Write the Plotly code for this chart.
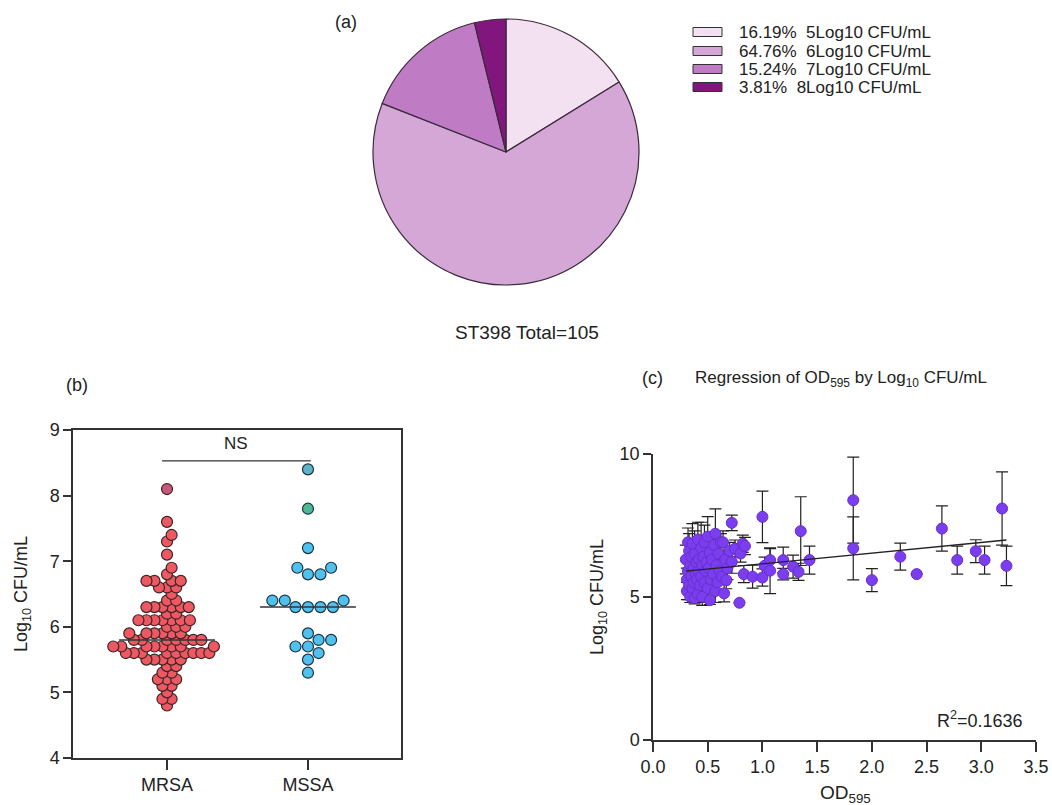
import math
import numpy as np
import plotly.graph_objects as go

W, H = 1052, 805

# ---------------- data ----------------
# (a) pie
pie_labels = ["5Log10 CFU/mL", "6Log10 CFU/mL", "7Log10 CFU/mL", "8Log10 CFU/mL"]
pie_counts = [17, 68, 16, 4]
pie_total_label = "ST398 Total=105"

# (b) dot plot (Log10 CFU/mL per isolate)
mrsa_levels = [4.8, 4.9, 5.0, 5.1, 5.2, 5.3, 5.4, 5.5, 5.6, 5.7, 5.8, 5.9, 6.0, 6.1, 6.2, 6.3,
               6.4, 6.5, 6.6, 6.7, 6.8, 6.9, 7.1, 7.3, 7.4, 7.6, 8.1]
mrsa_counts = [1, 2, 1, 2, 3, 2, 2, 5, 9, 8, 7, 6, 3, 7, 2, 6,
               2, 1, 3, 4, 1, 1, 1, 1, 1, 1, 1]
mssa_values = [8.4, 7.8, 7.2, 6.9, 6.8, 6.8, 6.9, 6.4, 6.3, 6.3, 6.3, 6.4, 6.3, 6.4,
               5.8, 5.9, 5.7, 5.7, 5.6, 5.8, 5.5, 5.3]
group_names = ["MRSA", "MSSA"]
ns_level = 8.53

# (c) regression: OD595 vs Log10 CFU/mL (mean, SD)
od = [0.30, 0.31, 0.31, 0.32, 0.32, 0.33, 0.33, 0.34, 0.34, 0.35, 0.35, 0.36, 0.36, 0.37, 0.37,
      0.38, 0.38, 0.39, 0.40, 0.40, 0.41, 0.41, 0.42, 0.42, 0.43, 0.44, 0.44, 0.45, 0.45, 0.46,
      0.47, 0.47, 0.48, 0.49, 0.50, 0.50, 0.51, 0.52, 0.52, 0.53, 0.54, 0.55, 0.56, 0.57, 0.57,
      0.58, 0.59, 0.60, 0.61, 0.62, 0.63, 0.64, 0.65, 0.66, 0.67, 0.68, 0.70,
      0.72, 0.72, 0.75, 0.79, 0.80, 0.82, 0.83, 0.84, 0.91, 1.00, 1.00, 1.02, 1.07, 1.07,
      1.19, 1.19, 1.28, 1.33, 1.35, 1.43, 1.83, 1.83, 2.00, 2.26, 2.41, 2.64, 2.78, 2.95,
      3.03, 3.19, 3.23]
cfu = [6.3, 5.6, 5.2, 6.9, 5.9, 6.6, 5.4, 6.1, 5.0, 6.4, 5.7, 6.85, 5.3, 6.0, 5.5,
       6.5, 4.95, 5.8, 6.2, 5.6, 7.0, 5.1, 6.3, 5.9, 5.4, 6.7, 5.7, 6.1, 5.0, 6.4,
       5.5, 6.9, 5.9, 6.2, 5.3, 7.1, 6.0, 4.88, 6.55, 5.6, 6.3, 5.8, 6.8, 7.2, 5.2,
       6.1, 5.5, 6.5, 5.9, 6.9, 5.7, 6.9, 5.12, 6.3, 5.58, 6.0, 6.6,
       7.58, 6.22, 6.68, 4.79, 6.51, 6.85, 5.79, 6.77, 5.70, 7.79, 5.67, 6.08, 6.28, 5.91,
       6.28, 5.79, 6.05, 5.87, 7.29, 6.28, 8.37, 6.69, 5.58, 6.40, 5.79, 7.38, 6.28, 6.59,
       6.28, 8.08, 6.08]
sd = [0.5, 0.4, 0.3, 0.5, 0.3, 0.6, 0.5, 0.4, 0.2, 0.4, 0.6, 0.7, 0.4, 0.5, 0.3,
      0.8, 0.2, 0.4, 0.5, 0.3, 0.6, 0.3, 0.4, 0.5, 0.4, 0.9, 0.3, 0.6, 0.3, 0.5,
      0.4, 0.6, 0.3, 0.7, 0.5, 0.7, 0.4, 0.15, 0.5, 0.3, 0.4, 0.5, 0.4, 0.87, 0.4,
      0.3, 0.3, 0.5, 0.3, 0.3, 0.2, 0.4, 0.3, 0.3, 0.3, 0.4, 0.3,
      0.27, 0.4, 0.3, None, 0.3, 0.3, 0.3, 0.3, 0.4, 0.9, 0.3, 0.3, 0.4, 0.8,
      0.45, 0.2, 0.4, 0.3, 1.2, 0.49, 1.5, 1.1, 0.4, 0.47, None, 0.79, 0.49, 0.4,
      0.49, 1.28, 0.69]
fit_slope = 0.372
fit_intercept = 5.78
r2_text = "R<sup>2</sup>=0.1636"

# ---------------- helpers ----------------
def px(x):
    return x / W

def py(y):
    return 1 - y / H

FONT = "Liberation Sans, Arial, sans-serif"
TXT = "#222222"

mrsa_values = [v for v, c in zip(mrsa_levels, mrsa_counts) for _ in range(c)]


def swarm(values, x_px_per_unit, y_px_per_unit, d):
    order = sorted(range(len(values)), key=lambda i: values[i])
    placed = []
    offs = [0.0] * len(values)
    for i in order:
        y = values[i] * y_px_per_unit
        cands = [0.0]
        for (qx, qy) in placed:
            dy = abs(qy - y)
            if dy < d:
                dx = math.sqrt(d * d - dy * dy)
                cands += [qx + dx, qx - dx]
        cands.sort(key=lambda c: (round(abs(c), 6), -c))
        for c in cands:
            if all((c - qx) ** 2 + (y - qy) ** 2 >= d * d - 1e-6 for qx, qy in placed):
                placed.append((c, y))
                offs[i] = c / x_px_per_unit
                break
    return offs

# panel b geometry
bx0, bx1, by0, by1 = 73, 401, 430, 758
b_xrange = [-0.667, 1.66]
b_yrange = [4, 9]
xppu = (bx1 - bx0) / (b_xrange[1] - b_xrange[0])
yppu = (by1 - by0) / (b_yrange[1] - b_yrange[0])

mrsa_off = swarm(mrsa_values, xppu, yppu, 8.0)
mssa_off = swarm(mssa_values, xppu, yppu, 12.5)

fig = go.Figure()


def note(x, y, text, size=18, **kw):
    d = dict(xref="paper", yref="paper", x=px(x), y=py(y), showarrow=False, text=text,
             xanchor="center", yanchor="middle", font=dict(family=FONT, size=size, color=TXT))
    d.update(kw)
    return d

# ---------------- (a) pie ----------------
pie_colors = ["#F3E1F2", "#D4A7D7", "#C07BC5", "#82167F"]
cx, cy, r = 506, 152, 133
fig.add_trace(go.Pie(
    labels=pie_labels, values=pie_counts, sort=False, direction="clockwise", rotation=0,
    marker=dict(colors=pie_colors, line=dict(color="#3a2a3a", width=1.2)),
    textinfo="none", hoverinfo="label+percent", showlegend=False,
    domain=dict(x=[px(cx - r), px(cx + r)], y=[py(cy + r), py(cy - r)]),
))

total = sum(pie_counts)
leg_rows = [32, 51, 69, 87]
shapes = []
annotations = []
for lab, cnt, col, ry in zip(pie_labels, pie_counts, pie_colors, leg_rows):
    shapes.append(dict(type="rect", xref="paper", yref="paper",
                       x0=px(693), x1=px(722), y0=py(ry + 4.5), y1=py(ry - 4.5),
                       fillcolor=col, line=dict(color="#333333", width=1)))
    annotations.append(note(737, ry, f"{100 * cnt / total:.2f}%\u00a0\u00a0{lab}", size=17,
                            xanchor="left"))

annotations.append(note(346, 22, "(a)"))
annotations.append(note(527, 333, pie_total_label, size=19))

# ---------------- (b) dot plot ----------------
special_b = {("MRSA", 8.1): "#C8577B", ("MSSA", 8.4): "#5BB5C6", ("MSSA", 7.8): "#4DB895"}
mrsa_cols = [special_b.get(("MRSA", v), "#EE5863") for v in mrsa_values]
mssa_cols = [special_b.get(("MSSA", v), "#4FC1EE") for v in mssa_values]

fig.add_trace(go.Scatter(
    x=[0 + o for o in mrsa_off], y=mrsa_values, mode="markers", xaxis="x", yaxis="y",
    marker=dict(size=11, color=mrsa_cols, line=dict(color="#3a2626", width=1.2)),
    showlegend=False, name="MRSA"))
fig.add_trace(go.Scatter(
    x=[1 + o for o in mssa_off], y=mssa_values, mode="markers", xaxis="x", yaxis="y",
    marker=dict(size=11, color=mssa_cols, line=dict(color="#1f3340", width=1.2)),
    showlegend=False, name="MSSA"))

for gi, vals in enumerate([mrsa_values, mssa_values]):
    med = float(np.median(vals))
    fig.add_trace(go.Scatter(x=[gi - 0.34, gi + 0.34], y=[med, med], mode="lines",
                             xaxis="x", yaxis="y", line=dict(color="#333333", width=1.5),
                             showlegend=False, hoverinfo="skip"))

shapes.append(dict(type="line", xref="x", yref="y", x0=-0.035, x1=1.02, y0=ns_level, y1=ns_level,
                   line=dict(color="#333333", width=1.3)))
annotations.append(note(236, 443, "NS", size=17))
annotations.append(note(77, 385, "(b)"))
annotations.append(note(22, 594, "Log<sub>10</sub> CFU/mL", textangle=-90))

# ---------------- (c) regression ----------------
sd_arr = [float("nan") if s is None else s for s in sd]
fig.add_trace(go.Scatter(
    x=od, y=cfu, mode="markers", xaxis="x2", yaxis="y2",
    error_y=dict(type="data", array=sd_arr, visible=True, color="#222222", thickness=1.2, width=6),
    marker=dict(size=11, color="#7A3EF0", line=dict(color="#6A2FC8", width=1)),
    showlegend=False))
fx = [min(od), max(od)]
fig.add_trace(go.Scatter(
    x=fx, y=[fit_intercept + fit_slope * v for v in fx], mode="lines", xaxis="x2", yaxis="y2",
    line=dict(color="#222222", width=1.3), showlegend=False, hoverinfo="skip"))

cx0, cx1, cy0, cy1 = 653, 1036, 453.5, 740
annotations.append(note(652, 378, "(c)"))
annotations.append(note(693, 379, "Regression of OD<sub>595</sub> by Log<sub>10</sub> CFU/mL",
                        size=17, xanchor="left"))
annotations.append(note(598, 597, "Log<sub>10</sub> CFU/mL", textangle=-90))
annotations.append(note(845, 794, "OD<sub>595</sub>", size=19))
annotations.append(note(980, 719, r2_text))

axis_common = dict(showgrid=False, zeroline=False, showline=True, linecolor="#333333",
                   linewidth=1.5, ticks="outside", tickcolor="#333333", tickwidth=1.5,
                   tickfont=dict(family=FONT, size=18, color=TXT), automargin=False)

fig.update_layout(
    width=W, height=H, margin=dict(l=0, r=0, t=0, b=0),
    paper_bgcolor="white", plot_bgcolor="white", showlegend=False,
    xaxis=dict(domain=[px(bx0), px(bx1)], range=b_xrange, tickvals=[0, 1], ticktext=group_names,
               ticklen=10, mirror=True, anchor="y", **axis_common),
    yaxis=dict(domain=[py(by1), py(by0)], range=b_yrange, dtick=1, ticklen=8, mirror=True,
               anchor="x", **axis_common),
    xaxis2=dict(domain=[px(cx0), px(cx1)], range=[0, 3.5], dtick=0.5, tickformat=".1f",
                ticklen=10, anchor="y2", **axis_common),
    yaxis2=dict(domain=[py(cy1), py(cy0)], range=[0, 10], tickvals=[0, 5, 10], ticklen=8,
                anchor="x2", **axis_common),
    shapes=shapes, annotations=annotations,
)

fig.write_html("out.html")
